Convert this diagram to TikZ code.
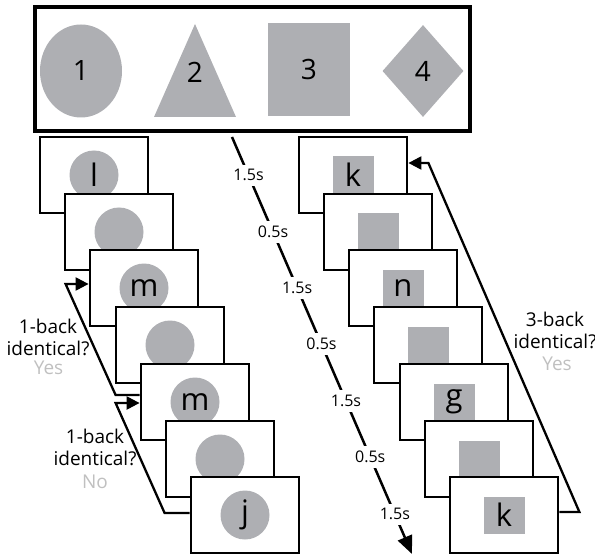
\documentclass[tikz,border=0pt]{standalone}
\usepackage{fontspec}
\setmainfont{Open Sans}
\usepackage{tikz}
\usetikzlibrary{arrows.meta,shapes.geometric}

\definecolor{shapegray}{RGB}{174,175,179}
\definecolor{answergray}{RGB}{192,192,192}

\begin{document}
\begin{tikzpicture}[x=1pt,y=-1pt]
 % Styles
\tikzset{
    panel/.style={draw, line width=3.3pt, minimum width=435pt, minimum height=124pt},
    symbol/.style={fill=shapegray, inner sep=0pt, font=\fontsize{28}{32}\selectfont},
    frame/.style={draw, fill=white, line width=2.8pt, minimum width=108pt, minimum height=76pt},
    disc/.style={circle, fill=shapegray, minimum size=49pt, inner sep=0pt, font=\fontsize{31}{34}\selectfont},
    tile/.style={rectangle, fill=shapegray, minimum width=41pt, minimum height=37pt, inner sep=0pt, font=\fontsize{31}{34}\selectfont},
    timeline/.style={line width=2.5pt, -{Triangle[length=18pt,width=15pt]}},
    tick/.style={fill=white, inner xsep=1pt, inner ysep=5pt, font=\fontsize{16}{19}\selectfont},
    backarrow/.style={line width=2.3pt, -{Triangle[length=13pt,width=13pt]}},
    question/.style={align=center, inner sep=0pt, font=\fontsize{19}{22.5}\selectfont},
    answer/.style={anchor=base, inner sep=0pt, text=answergray, font=\fontsize{19}{22.5}\selectfont}
}
\useasboundingbox (0,0) rectangle (595,559);

% Symbol panel
\node[panel] (P) at (252.5,69){};
\node[symbol, ellipse, minimum width=82pt, minimum height=93pt] (S1) at (81,71){1};
\fill[shapegray] (195,24) -- (236,117) -- (154,117) -- cycle;
\node[font=\fontsize{28}{32}\selectfont] (S2) at (195,72){2};
\node[symbol, rectangle, minimum width=82pt, minimum height=93pt] (S3) at (309,69.5){3};
\node[symbol, diamond, minimum width=81pt, minimum height=92pt] (S4) at (423,71){4};

% Left stack
\node[frame] (L1) at (94,175){};
\node[disc] (L1s) at (L1){l};
\node[frame] (L2) at (119,232){};
\node[disc] (L2s) at (L2){};
\node[frame] (L3) at (144,288){};
\node[disc] (L3s) at (L3){m};
\node[frame] (L4) at (170,345){};
\node[disc] (L4s) at (L4){};
\node[frame] (L5) at (195,402){};
\node[disc] (L5s) at (L5){m};
\node[frame] (L6) at (220,459){};
\node[disc] (L6s) at (L6){};
\node[frame] (L7) at (245,515){};
\node[disc] (L7s) at (L7){j};

% Right stack
\node[frame] (R1) at (353,175){};
\node[tile] (R1s) at (R1){k};
\node[frame] (R2) at (378,232){};
\node[tile] (R2s) at (R2){};
\node[frame] (R3) at (403,288){};
\node[tile] (R3s) at (R3){n};
\node[frame] (R4) at (428,345){};
\node[tile] (R4s) at (R4){};
\node[frame] (R5) at (454,402){};
\node[tile] (R5s) at (R5){g};
\node[frame] (R6) at (479,459){};
\node[tile] (R6s) at (R6){};
\node[frame] (R7) at (504,515){};
\node[tile] (R7s) at (R7){k};

% Timing
\coordinate (T0) at (232,137);
\coordinate (T1) at (412,554);
\draw[timeline] (T0) -- (T1)
    node[tick, pos=0.092](D1){1.5s}
    node[tick, pos=0.228](D2){0.5s}
    node[tick, pos=0.362](D3){1.5s}
    node[tick, pos=0.497](D4){0.5s}
    node[tick, pos=0.633](D5){1.5s}
    node[tick, pos=0.768](D6){0.5s}
    node[tick, pos=0.905](D7){1.5s};

% Comparisons
\draw[backarrow] ([yshift=7pt]L5.west) -- ++(-24,0) -- ++(-50,-111) -- ([yshift=4pt]L3.west);
\draw[backarrow] ([yshift=2pt]L7.west) -- ++(-25,0) -- ++(-49,-110) -- ([yshift=-1pt]L5.west);
\draw[backarrow] ([yshift=3pt]R7.east) -- ++(20,0) -- ++(-151,-349) -- ([yshift=12pt]R1.east);

\node[question] (Q1) at (48,337.6){1-back\\identical?};
\node[answer] (A1) at (48.5,374){Yes};
\node[question] (Q2) at (95,447.6){1-back\\identical?};
\node[answer] (A2) at (95,488){No};
\node[question] (Q3) at (555,330.4){3-back\\identical?};
\node[answer] (A3) at (557,370){Yes};
\end{tikzpicture}
\end{document}
